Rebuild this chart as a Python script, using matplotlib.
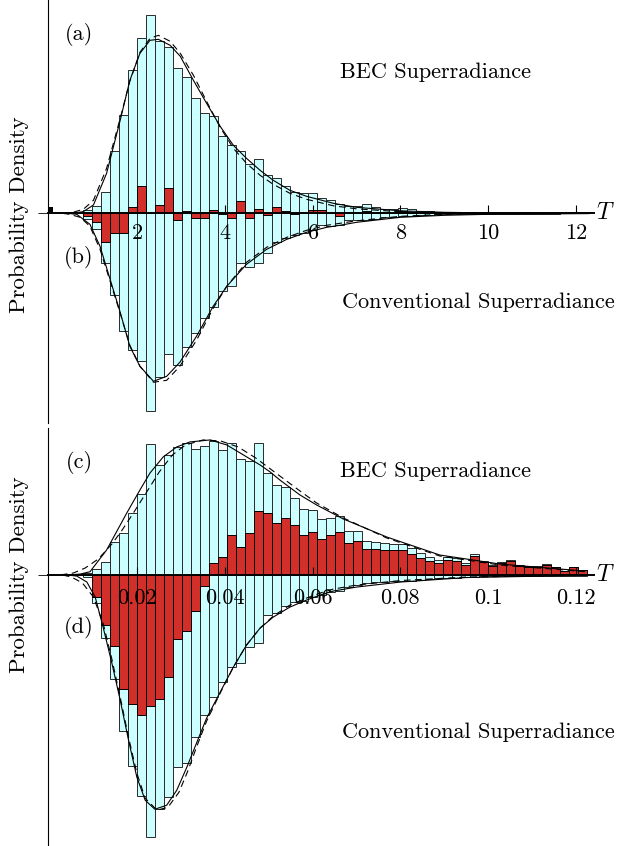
import numpy as np
import matplotlib.pyplot as plt

plt.rcParams['font.family'] = 'serif'
plt.rcParams['font.serif'] = ['cmr10']
plt.rcParams['mathtext.fontset'] = 'cm'
plt.rcParams['axes.unicode_minus'] = False
plt.rcParams['axes.formatter.use_mathtext'] = True

# histogram bins (60 bins, data from bin 4 on); lower panel uses T/100
bin_start = -0.05
bin_w = 0.205
first_bin = 4
n_bins = 60

# counts per bin, panel (a) BEC and (b) conventional, N = 2200
N_top = 2200
bec_a = [3, 7, 21, 62, 98, 143, 175, 198, 172, 166,
         145, 136, 115, 100, 97, 77, 68, 62, 49, 54,
         38, 35, 27, 21, 20, 20, 15, 13, 9, 7,
         7, 9, 6, 4, 4, 5, 4, 2, 2, 1,
         1, 0.8, 0.6, 0.5, 0.5, 0.4, 0.3, 0.3, 0.3, 0.2,
         0.2, 0.2, 0.2, 0.1, 0.1, 0.1]
conv_b = [6, 16, 50, 82, 118, 137, 148, 198, 164, 141,
          152, 134, 120, 105, 94, 78, 73, 50, 54, 50,
          40, 29, 25, 22, 20, 17, 12, 13, 12, 7,
          7, 7, 6, 4, 4, 3, 3, 2, 2, 1,
          1, 0.8, 0.6, 0.5, 0.5, 0.4, 0.3, 0.3, 0.3, 0.2,
          0.2, 0.2, 0.2, 0.1, 0.1, 0.1]
spike_a = [6]

# counts per bin, panel (c) BEC and (d) conventional, N = 3050
N_bot = 3050
bec_c = [2, 6, 13, 33, 42, 62, 81, 131, 110, 120,
         128, 132, 126, 129, 134, 125, 132, 116, 114, 132,
         102, 90, 88, 77, 66, 65, 56, 57, 59, 44,
         44, 34, 33, 32, 31, 31, 27, 22, 18, 15,
         18, 17, 12, 21, 14, 10, 13, 15, 10, 9,
         9, 11, 8.5, 4.5, 8.5, 5.5]
conv_d = [2, 28, 63, 104, 156, 191, 221, 262, 234, 222,
          192, 188, 162, 140, 122, 107, 92, 88, 72, 68,
          40, 38, 31, 27, 26, 22, 20, 17, 16, 12,
          10, 8, 7, 7, 6, 6, 6, 5, 4, 3,
          3, 3, 2, 2, 1, 1, 1, 1, 1, 1,
          0.5, 0.5, 0.5, 0.5, 0.5, 0.5]

# fitted curves (same count units), T in upper-panel units
fit_a_T = [0.4, 0.6, 0.77, 1.0, 1.3, 1.61, 1.83, 2.06, 2.29, 2.48, 2.75, 2.98, 3.28,
           3.58, 3.89, 4.19, 4.49, 4.8, 5.1, 5.48, 5.86, 6.47, 7.0, 8.0, 9.0, 10.0, 12.3]
fit_a_h = [0, 0.5, 1.7, 8.3, 40, 93, 133, 160, 173, 174, 168, 157, 133,
           110, 87, 68, 55, 43, 33, 23, 17, 10, 6, 2.5, 1, 0.4, 0.1]
dash_a_T = [0.3, 0.5, 0.77, 1.0, 1.3, 1.61, 1.83, 2.06, 2.29, 2.48, 2.75, 2.98, 3.28,
            3.58, 3.89, 4.19, 4.49, 4.8, 5.1, 5.48, 5.86, 6.47, 7.0, 8.0, 9.0, 10.0, 12.3]
dash_a_h = [0, 0.6, 4, 13, 45, 95, 132, 161, 175, 178, 172, 160, 138,
            112, 86, 65, 50, 38, 29, 20, 14, 7.5, 4.5, 1.5, 0.5, 0.2, 0]

fit_b_T = [0.4, 0.62, 0.92, 1.15, 1.38, 1.61, 1.83, 2.06, 2.37, 2.67, 2.97, 3.35, 3.73,
           4.04, 4.49, 4.95, 5.41, 5.86, 6.32, 6.62, 7.0, 8.0, 9.0, 10.0, 12.3]
fit_b_h = [0, 1, 11, 33, 66, 99, 133, 153, 168, 163, 149, 123, 93,
           73, 51, 36, 26, 19, 14, 12, 9, 4, 2, 1, 0.3]
dash_b_T = [0.3, 0.45, 0.7, 0.92, 1.15, 1.38, 1.61, 1.83, 2.06, 2.37, 2.67, 2.97, 3.35,
            3.73, 4.04, 4.49, 4.95, 5.41, 5.86, 6.32, 6.62, 7.0, 8.0, 9.0, 10.0, 12.3]
dash_b_h = [0, 1, 4, 13, 36, 68, 100, 132, 153, 169, 167, 153, 127,
            95, 73, 49, 34, 24, 17, 12, 10, 7.5, 3, 1, 0.4, 0]

fit_c_T = [0.4, 0.7, 0.92, 1.3, 1.76, 2.06, 2.29, 2.59, 2.9, 3.2, 3.66, 4.04, 4.42,
           4.8, 5.03, 5.25, 5.71, 6.09, 6.7, 7.69, 8.9, 10.27, 12.2]
fit_c_h = [0, 1, 3.3, 25, 62, 85, 102, 118, 128, 133, 135, 130, 120,
           110, 103, 95, 80, 70, 56, 38, 20, 11, 4]
dash_c_T = [0.0, 0.3, 0.54, 0.81, 1.11, 1.42, 1.64, 1.91, 2.2, 2.5, 2.8, 3.1, 3.5,
            3.9, 4.3, 4.7, 5.25, 5.71, 6.09, 6.7, 7.69, 8.9, 10.27, 12.2]
dash_c_h = [0, 0.5, 2, 7, 16, 31, 44, 62, 82, 103, 120, 130, 135,
            134, 128, 117, 99, 84, 72, 57, 37, 19, 10, 3.5]

fit_d_T = [0.4, 0.62, 0.85, 1.04, 1.22, 1.42, 1.61, 1.8, 1.99, 2.18, 2.4, 2.67, 2.9,
           3.13, 3.35, 3.58, 3.89, 4.19, 4.49, 4.8, 5.1, 5.48, 5.86, 6.17, 6.47,
           7.0, 8.0, 9.5, 12.2]
fit_d_h = [0, 1, 7, 22, 52, 88, 125, 165, 202, 225, 234, 230, 215,
           192, 168, 143, 117, 92, 70, 53, 42, 32, 25, 20, 16,
           12, 7, 2.5, 0.3]
dash_d_T = [0.3, 0.5, 0.75, 1.0, 1.22, 1.42, 1.61, 1.8, 1.99, 2.18, 2.45, 2.7, 2.95,
            3.15, 3.35, 3.58, 3.89, 4.19, 4.49, 4.8, 5.1, 5.48, 5.86, 6.17, 6.47,
            7.0, 8.0, 9.5, 12.2]
dash_d_h = [0, 2, 8, 22, 48, 84, 122, 162, 198, 223, 235, 232, 217,
            196, 172, 146, 118, 92, 70, 53, 41, 30, 23, 18, 14,
            10, 5.5, 2, 0.2]

ticks_top = [2, 4, 6, 8, 10, 12]
ticks_bot = [0.02, 0.04, 0.06, 0.08, 0.1, 0.12]
ticklabels_top = ['2', '4', '6', '8', '10', '12']
ticklabels_bot = ['0.02', '0.04', '0.06', '0.08', '0.1', '0.12']

cyan = '#ccffff'
red = '#d22f2a'
fs = 16


def draw_panel(ax, xs, N, bec, conv, fits, dashes, ticks, labels, pad):
    w = bin_w * xs
    left = (np.arange(first_bin, n_bins) * bin_w + bin_start) * xs
    top = np.array(bec) / (N * w)
    bot = np.array(conv) / (N * w)
    ax.bar(left, top, w, align='edge', color=cyan, edgecolor='#2a2a2a', lw=0.7)
    ax.bar(left, -bot, w, align='edge', color=cyan, edgecolor='#2a2a2a', lw=0.7)
    ax.bar(left, top - bot, w, align='edge', color=red, edgecolor='black', lw=0.7)
    for t, h in fits:
        ax.plot(np.array(t) * xs, np.array(h) / (N * w), color='black', lw=0.8)
    for t, h in dashes:
        ax.plot(np.array(t) * xs, np.array(h) / (N * w), color='black', lw=0.8,
                ls=(0, (6, 4)))
    for s in ['top', 'right']:
        ax.spines[s].set_visible(False)
    ax.spines['bottom'].set_position(('data', 0))
    ax.spines['bottom'].set_linewidth(1.4)
    ax.spines['left'].set_linewidth(0.8)
    ax.set_xticks(ticks)
    ax.set_xticklabels(labels, fontsize=fs)
    ax.tick_params(axis='x', direction='in', length=6, width=0.8, pad=pad)
    ax.set_yticks([0])
    ax.set_yticklabels([])
    ax.tick_params(axis='y', direction='out', length=7, width=0.6)
    ax.patch.set_alpha(0)


fig = plt.figure(figsize=(6.18, 8.46), dpi=100)

ax1 = fig.add_axes([48 / 618, 0.5, 546 / 618, 0.5])
draw_panel(ax1, 1.0, N_top, bec_a, conv_b,
           [(fit_a_T, fit_a_h), (fit_b_T, [-v for v in fit_b_h])],
           [(dash_a_T, dash_a_h), (dash_b_T, [-v for v in dash_b_h])],
           ticks_top, ticklabels_top, 7)
ax1.bar(-0.03, spike_a[0] / (N_top * bin_w), 0.11, align='edge', color='black')
ax1.set_xlim(-0.0365, 12.415)
ax1.set_ylim(-0.465, 0.473)

ax2 = fig.add_axes([48 / 618, 0, 546 / 618, 418 / 846])
draw_panel(ax2, 0.01, N_bot, bec_c, conv_d,
           [(fit_c_T, fit_c_h), (fit_d_T, [-v for v in fit_d_h])],
           [(dash_c_T, dash_c_h), (dash_d_T, [-v for v in dash_d_h])],
           ticks_bot, ticklabels_bot, 10)
ax2.set_xlim(-0.000365, 0.12415)
ax2.set_ylim(-43.3, 23.5)


# annotations
def ftext(x, y, s, size=fs, **kw):
    fig.text(x / 618, 1 - y / 846, s, fontsize=size, ha='center', va='center', **kw)


ftext(79, 35, '(a)')
ftext(79, 257, '(b)')
ftext(79, 463, '(c)')
ftext(79, 627, '(d)')
ftext(436, 72, 'BEC Superradiance')
ftext(478, 302, 'Conventional Superradiance')
ftext(436, 471, 'BEC Superradiance')
ftext(478, 732, 'Conventional Superradiance')
ftext(605, 213, '$T$', size=17)
ftext(605, 575, '$T$', size=17)
ftext(19, 215, 'Probability Density', size=16.5, rotation=90)
ftext(19, 575, 'Probability Density', size=16.5, rotation=90)

fig.savefig('out.png', dpi=100)
